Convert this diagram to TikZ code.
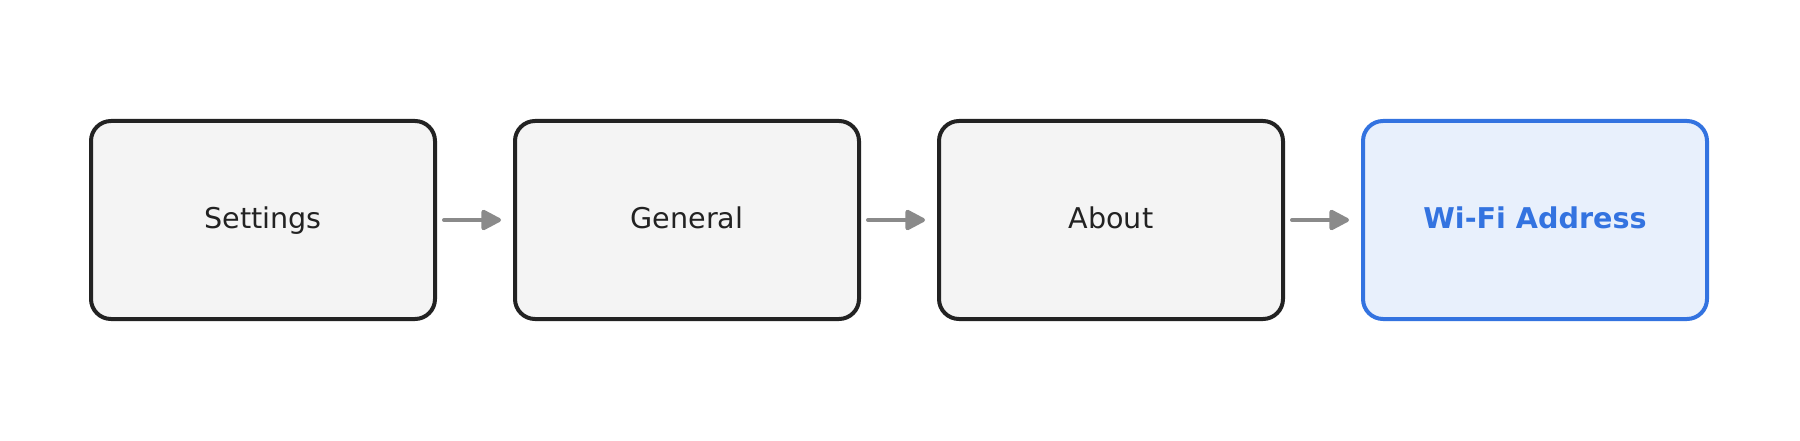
\documentclass[tikz,border=0pt]{standalone}
\usepackage{fontspec}
\setmainfont{DejaVu Sans}
\usetikzlibrary{arrows.meta,positioning}

\definecolor{boxline}{HTML}{222222}
\definecolor{boxfill}{HTML}{F4F4F4}
\definecolor{hiline}{HTML}{3373E0}
\definecolor{hifill}{HTML}{E8F0FC}
\definecolor{flowgray}{HTML}{8A8A8A}

\begin{document}
\begin{tikzpicture}[
  font=\fontsize{14.3pt}{17pt}\selectfont,
  stepbox/.style={draw=boxline,fill=boxfill,text=boxline,line width=2pt,rounded corners=10pt,
    minimum width=172pt,minimum height=99pt,text height=11pt,text depth=3pt,align=center},
  targetbox/.style={stepbox,draw=hiline,fill=hifill,text=hiline,font=\fontsize{14.3pt}{17pt}\selectfont\bfseries},
  flow/.style={draw=flowgray,line width=2pt,line cap=round,
    -{Triangle[length=11pt,width=11pt,round]},shorten <=3.5pt,shorten >=6pt}
]
\useasboundingbox (0,0) rectangle (900pt,220pt);

% ---- menu path ----
\node[stepbox] (settings) at (131.5pt,110pt) {Settings};
\node[stepbox,right=38pt of settings] (general) {General};
\node[stepbox,right=38pt of general] (about) {About};
\node[targetbox,right=38pt of about] (wifi) {Wi-Fi Address};

\draw[flow] (settings) -- (general);
\draw[flow] (general) -- (about);
\draw[flow] (about) -- (wifi);

\end{tikzpicture}
\end{document}
